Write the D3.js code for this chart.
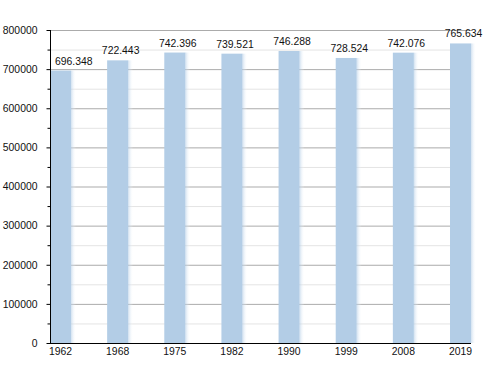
<!DOCTYPE html>
<html><head><meta charset="utf-8">
<script src="https://cdn.jsdelivr.net/npm/d3@7"></script>
<style>
html,body{margin:0;padding:0;background:#fff;}
text{font-family:"Liberation Sans",Arial,sans-serif;font-size:10.4px;fill:#111;}
</style></head>
<body>
<svg id="c" width="500" height="373"></svg>
<script>
const years = ["1962","1968","1975","1982","1990","1999","2008","2019"];
const population = [696348, 722443, 742396, 739521, 746288, 728524, 742076, 765634];
const valueLabels = ["696.348","722.443","742.396","739.521","746.288","728.524","742.076","765.634"];
const yTicks = [0,100000,200000,300000,400000,500000,600000,700000,800000];
const yMinorTicks = [50000,150000,250000,350000,450000,550000,650000,750000];

(function(){
const svg = d3.select("#c");
const mLeft = 50, mRight = 471, mTop = 30, mBottom = 343;

const x = d3.scaleBand().domain(years).range([mLeft, mRight]).paddingInner(0.6325).paddingOuter(0).align(0);
const y = d3.scaleLinear().domain([0, 800000]).range([mBottom, mTop]);

const defs = svg.append("defs");
const g = defs.append("linearGradient").attr("id","glow").attr("x1","0").attr("x2","1").attr("y1","0").attr("y2","0");
g.append("stop").attr("offset","0").attr("stop-color","#b3cde6").attr("stop-opacity",0.6);
g.append("stop").attr("offset","1").attr("stop-color","#ffffff").attr("stop-opacity",0);

// grid
svg.append("g").selectAll("line").data(yMinorTicks).join("line")
  .attr("x1", mLeft).attr("x2", mRight).attr("y1", d => y(d)+0.5).attr("y2", d => y(d)+0.5)
  .attr("stroke", "#e4e4e4").attr("stroke-width", 1);
svg.append("g").selectAll("line").data(yTicks.filter(d => d > 0)).join("line")
  .attr("x1", mLeft).attr("x2", mRight).attr("y1", d => y(d)+0.5).attr("y2", d => y(d)+0.5)
  .attr("stroke", "#ababab").attr("stroke-width", 1);

// bars
const bars = svg.append("g");
bars.selectAll("rect.glow").data(population).join("rect").attr("class","glow")
  .attr("x", (d,i) => x(years[i]) + x.bandwidth())
  .attr("width", 5)
  .attr("y", d => y(d))
  .attr("height", d => mBottom - y(d))
  .attr("fill", "url(#glow)");
bars.selectAll("rect.bar").data(population).join("rect").attr("class","bar")
  .attr("x", (d,i) => x(years[i]))
  .attr("width", x.bandwidth())
  .attr("y", d => y(d))
  .attr("height", d => mBottom - y(d))
  .attr("fill", "#b3cde6");

// value labels
svg.append("g").selectAll("text").data(population).join("text")
  .text((d,i) => valueLabels[i])
  .attr("text-anchor","middle")
  .attr("y", d => y(d) - 6)
  .attr("x", function(d,i){
    const w = this.getComputedTextLength();
    return Math.max(x(years[i]) + x.bandwidth()/2 + 3, mLeft + 5 + w/2);
  });

// y axis
const yAxis = d3.axisLeft(y).tickValues(yTicks).tickFormat(d3.format("d")).tickSize(4).tickPadding(9);
const ya = svg.append("g").attr("transform", `translate(${mLeft+0.5},0)`).call(yAxis);
ya.select(".domain").attr("stroke","#000").attr("d", `M0,${mTop}V${mBottom}`);
ya.selectAll(".tick line").attr("stroke","#000");
ya.selectAll("text").attr("font-size", null).attr("font-family", null);
const minor = d3.axisLeft(y).tickValues(yMinorTicks).tickFormat("").tickSize(3);
const ym = svg.append("g").attr("transform", `translate(${mLeft+0.5},0)`).call(minor);
ym.select(".domain").remove();
ym.selectAll(".tick line").attr("stroke","#000");

// x axis
const xAxis = d3.axisBottom(x).tickSize(0).tickPadding(4);
const xa = svg.append("g").attr("transform", `translate(0,${mBottom+0.5})`).call(xAxis);
xa.select(".domain").attr("stroke","#000").attr("d", `M${mLeft},0H${mRight}`);
xa.selectAll("text").attr("font-size", null).attr("font-family", null);
})();
</script>
</body></html>
